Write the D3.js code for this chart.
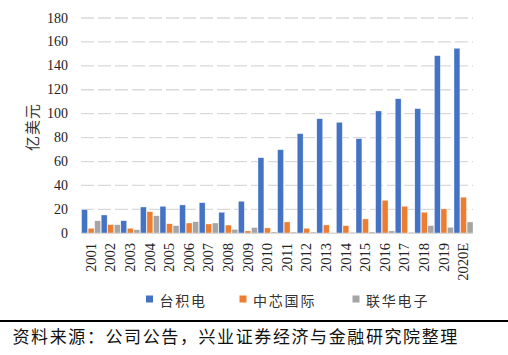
<!DOCTYPE html>
<html><head><meta charset="utf-8">
<script src="https://cdn.jsdelivr.net/npm/d3@7"></script>
<style>
html,body{margin:0;padding:0;background:#fff;}
svg{display:block;}
</style></head>
<body>
<svg id="chart" width="508" height="355"></svg>
<script>
const years = ["2001","2002","2003","2004","2005","2006","2007","2008","2009","2010","2011","2012","2013","2014","2015","2016","2017","2018","2019","2020E"];
const seriesNames = ["台积电","中芯国际","联华电子"];
const tsmc = [19.8,15.3,10.5,22.0,22.6,23.7,25.6,17.6,26.8,63.2,69.9,83.3,95.8,92.8,79.1,102.3,112.5,104.2,148.5,154.7];
const smic = [4.2,7.2,4.2,18.1,8.0,8.6,7.8,6.9,2.0,4.5,9.5,4.2,7.0,6.4,12.0,27.6,22.6,17.6,20.4,30.2];
const umc = [10.5,7.2,3.0,14.7,6.4,9.7,8.6,3.3,4.8,1.1,1.0,1.0,0.5,0.8,1.1,2.0,0.8,6.4,5.0,9.5];
const yTicks = [0,20,40,60,80,100,120,140,160,180];
const colors = ["#4472C4","#ED7D31","#A5A5A5"];
const sourceText = "资料来源：公司公告，兴业证券经济与金融研究院整理";
const yTitle = "亿美元";

const svg = d3.select("#chart");
const pLeft = 81, pRight = 473, pTop = 18, pBottom = 233.3;
const x = d3.scaleBand().domain(years).range([pLeft, pRight]).padding(0);
const bw = x.bandwidth();
const xs = d3.scaleBand().domain(seriesNames).range([0.6, bw]).paddingInner(0.1).paddingOuter(0);
const y = d3.scaleLinear().domain([0,180]).range([pBottom, pTop]);
const data = [tsmc, smic, umc];

// gridlines
svg.append("g").selectAll("line").data(yTicks.filter(d => d > 0)).join("line")
  .attr("x1", pLeft).attr("x2", pRight)
  .attr("y1", d => y(d)).attr("y2", d => y(d))
  .attr("stroke", "#d9d9d9").attr("stroke-width", 1.3)
  .attr("stroke-dasharray", "13,4");

// y labels
svg.append("g").selectAll("text").data(yTicks).join("text")
  .attr("x", 68).attr("y", d => y(d))
  .attr("text-anchor", "end").attr("dominant-baseline", "central")
  .attr("font-family", "Liberation Serif, serif").attr("font-size", 14)
  .attr("fill", "#222").text(d => d);

// bars
seriesNames.forEach((s, i) => {
  svg.append("g").selectAll("rect").data(years).join("rect")
    .attr("x", (d) => x(d) + xs(s))
    .attr("width", xs.bandwidth())
    .attr("y", (d, j) => y(data[i][j]))
    .attr("height", (d, j) => y(0) - y(data[i][j]))
    .attr("fill", colors[i])
    .attr("stroke", "#fff").attr("stroke-width", 0.5).attr("stroke-opacity", 0.7);
});

// baseline
svg.append("line").attr("x1", pLeft).attr("x2", pRight)
  .attr("y1", y(0)).attr("y2", y(0))
  .attr("stroke", "#d9d9d9").attr("stroke-width", 1.2);

// x labels
svg.append("g").selectAll("text").data(years).join("text")
  .attr("transform", d => `translate(${x(d) + bw/2},243) rotate(-90)`)
  .attr("text-anchor", "end").attr("dominant-baseline", "central")
  .attr("font-family", "Liberation Serif, serif").attr("font-size", 14.5)
  .attr("fill", "#222").text(d => d);

// y title
svg.append("text")
  .attr("transform", "translate(31,127) rotate(-90)")
  .attr("text-anchor", "middle").attr("dominant-baseline", "central")
  .attr("font-family", "Noto Sans CJK SC, sans-serif").attr("font-size", 15)
  .attr("letter-spacing", 1)
  .attr("fill", "#333").text(yTitle);

// legend
const legX = [146, 239.5, 352.5];
seriesNames.forEach((s, i) => {
  svg.append("rect").attr("x", legX[i]).attr("y", 295.5).attr("width", 7).attr("height", 7).attr("fill", colors[i]);
  svg.append("text").attr("x", legX[i] + 13.5).attr("y", 299.5)
    .attr("dominant-baseline", "central")
    .attr("font-family", "Noto Sans CJK SC, sans-serif").attr("font-size", 14)
    .attr("letter-spacing", 1.8)
    .attr("fill", "#333").text(s);
});

// separator line
svg.append("line").attr("x1", 0).attr("x2", 508).attr("y1", 321).attr("y2", 321)
  .attr("stroke", "#000").attr("stroke-width", 2);

// source
svg.append("text").attr("x", 12.5).attr("y", 335)
  .attr("dominant-baseline", "central")
  .attr("font-family", "Noto Sans CJK SC, sans-serif").attr("font-size", 17)
  .attr("letter-spacing", 1.6)
  .attr("fill", "#111").text(sourceText);
</script>
</body></html>
